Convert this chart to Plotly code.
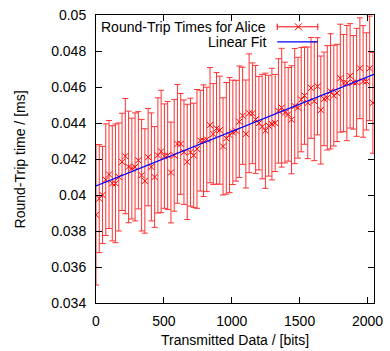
import plotly.graph_objects as go

# ---- data ----
x_bits = [0, 24, 48, 72, 96, 120, 144, 168, 192, 216,
          240, 264, 288, 312, 336, 360, 384, 408, 432, 456,
          480, 504, 528, 552, 576, 600, 624, 648, 672, 696,
          720, 744, 768, 792, 816, 840, 864, 888, 912, 936,
          960, 984, 1008, 1032, 1056, 1080, 1104, 1128, 1152, 1176,
          1200, 1224, 1248, 1272, 1296, 1320, 1344, 1368, 1392, 1416,
          1440, 1464, 1488, 1512, 1536, 1560, 1584, 1608, 1632, 1656,
          1680, 1704, 1728, 1752, 1776, 1800, 1824, 1848, 1872, 1896,
          1920, 1944, 1968, 1992, 2016, 2040]

rtt_ms = [0.0389, 0.0398, 0.0400, 0.04085, 0.04114, 0.04065, 0.04065, 0.0410, 0.04184, 0.04216,
          0.04156, 0.04147, 0.04156, 0.04193, 0.0411, 0.04078, 0.0421, 0.04156, 0.0410, 0.0422,
          0.04242, 0.04216, 0.0422, 0.04125, 0.0422, 0.04284, 0.04284, 0.04238, 0.04184, 0.04238,
          0.0422, 0.04256, 0.04302, 0.04302, 0.04309, 0.04388, 0.04339, 0.0437, 0.0436, 0.0427,
          0.04315, 0.04333, 0.04348, 0.04357, 0.04407, 0.0444, 0.04339, 0.04454, 0.04454, 0.0442,
          0.04399, 0.0438, 0.04357, 0.04385, 0.04394, 0.0440, 0.04467, 0.04485, 0.04458, 0.04448,
          0.04418, 0.04494, 0.04485, 0.0453, 0.04552, 0.04512, 0.04595, 0.04521, 0.04604, 0.04472,
          0.04534, 0.0454, 0.04576, 0.04552, 0.04567, 0.04649, 0.04622, 0.04622, 0.04662, 0.04626,
          0.04626, 0.04704, 0.04631, 0.04631, 0.04704, 0.04512]

rtt_err = [0.0039, 0.0030, 0.0027, 0.0031, 0.0030, 0.0032, 0.0033, 0.0030, 0.0027, 0.0032,
           0.0031, 0.0028, 0.0030, 0.0027, 0.0031, 0.0029, 0.0027, 0.0030, 0.0028, 0.0032,
           0.0034, 0.0029, 0.0030, 0.0028, 0.0031, 0.0033, 0.0028, 0.0029, 0.0032, 0.0030,
           0.0029, 0.0033, 0.0028, 0.0031, 0.0029, 0.0032, 0.0028, 0.0031, 0.0030, 0.0027,
           0.0031, 0.0032, 0.0029, 0.0028, 0.0031, 0.0027, 0.0030, 0.0033, 0.0028, 0.0030,
           0.0026, 0.0029, 0.0032, 0.0028, 0.0031, 0.0027, 0.0029, 0.0033, 0.0028, 0.0026,
           0.0030, 0.0032, 0.0028, 0.0029, 0.0027, 0.0031, 0.0028, 0.0033, 0.0027, 0.0030,
           0.0026, 0.0029, 0.0032, 0.0028, 0.0027, 0.0030, 0.0027, 0.0032, 0.0029, 0.0026,
           0.0030, 0.0028, 0.0031, 0.0027, 0.0029, 0.0028]

fit_x = [0, 2048]
fit_y = [0.04050, 0.04670]

x_tick_vals = [0, 500, 1000, 1500, 2000]
x_tick_text = ["0", "500", "1000", "1500", "2000"]
y_tick_vals = [0.034, 0.036, 0.038, 0.040, 0.042, 0.044, 0.046, 0.048, 0.050]
y_tick_text = ["0.034", "0.036", "0.038", "0.04", "0.042", "0.044", "0.046", "0.048", "0.05"]

series_name = "Round-Trip Times for Alice"
fit_name = "Linear Fit"

RED = "#ff0000"
BAR_RED = "rgb(255,50,50)"
BLUE = "#0000ff"
FONT = "Liberation Sans, Arial, sans-serif"

fig = go.Figure()

fig.add_trace(go.Scatter(
    x=x_bits, y=rtt_ms, mode="markers", name=series_name,
    marker=dict(symbol="x-thin", size=6, color=RED, line=dict(color=RED, width=1)),
    error_y=dict(type="data", array=rtt_err, visible=True, color=BAR_RED, thickness=1, width=3),
    showlegend=False,
))

fig.add_trace(go.Scatter(
    x=fit_x, y=fit_y, mode="lines", name=fit_name,
    line=dict(color=BLUE, width=1.2), showlegend=False,
))

# ---- legend samples drawn on an overlay axis (domain 0..1) ----
leg_x0, leg_x1, leg_xc = 0.652, 0.798, 0.728
leg_y1, leg_y2 = 0.959, 0.907
leg_text_x = 0.617

fig.add_trace(go.Scatter(
    x=[leg_x0, leg_x1], y=[leg_y1, leg_y1], mode="lines",
    line=dict(color=RED, width=1),
    error_y=dict(type="constant", value=0.011, color=RED, thickness=1, width=0),
    xaxis="x2", yaxis="y2", showlegend=False, hoverinfo="skip",
))
fig.add_trace(go.Scatter(
    x=[leg_xc], y=[leg_y1], mode="markers",
    marker=dict(symbol="x-thin", size=7, color=RED, line=dict(color=RED, width=1)),
    xaxis="x2", yaxis="y2", showlegend=False, hoverinfo="skip",
))
fig.add_trace(go.Scatter(
    x=[leg_x0, leg_x1], y=[leg_y2, leg_y2], mode="lines",
    line=dict(color=BLUE, width=1.2),
    xaxis="x2", yaxis="y2", showlegend=False, hoverinfo="skip",
))

axis_common = dict(
    showline=True, linecolor="black", linewidth=1, mirror="allticks",
    ticks="inside", ticklen=6, tickwidth=1, tickcolor="black",
    showgrid=False, zeroline=False, ticklabeloverflow="allow",
    tickfont=dict(family=FONT, size=14, color="black"),
)

fig.update_layout(
    width=390, height=351,
    margin=dict(l=96, r=7, t=11, b=48),
    paper_bgcolor="white", plot_bgcolor="white",
    font=dict(family=FONT, size=14, color="black"),
    xaxis=dict(range=[0, 2048], tickvals=x_tick_vals, ticktext=x_tick_text,
               ticklabelstandoff=5, **axis_common),
    yaxis=dict(range=[0.034, 0.050], tickvals=y_tick_vals, ticktext=y_tick_text,
               ticklabelstandoff=6, **axis_common),
    xaxis2=dict(overlaying="x", range=[0, 1], visible=False, fixedrange=True),
    yaxis2=dict(overlaying="y", range=[0, 1], visible=False, fixedrange=True),
    annotations=[
        dict(text="Transmitted Data / [bits]", xref="paper", yref="paper",
             x=0.5, y=-0.13, xanchor="center", yanchor="middle", showarrow=False,
             font=dict(family=FONT, size=14, color="black")),
        dict(text="Round-Trip time / [ms]", xref="paper", yref="paper",
             x=-0.272, y=0.5, xanchor="center", yanchor="middle", textangle=-90,
             showarrow=False, font=dict(family=FONT, size=14, color="black")),
        dict(text=series_name, xref="paper", yref="paper",
             x=leg_text_x, y=leg_y1, xanchor="right", yanchor="middle", showarrow=False,
             font=dict(family=FONT, size=14, color="black")),
        dict(text=fit_name, xref="paper", yref="paper",
             x=leg_text_x, y=leg_y2, xanchor="right", yanchor="middle", showarrow=False,
             font=dict(family=FONT, size=14, color="black")),
    ],
)

fig.write_html("out.html")
